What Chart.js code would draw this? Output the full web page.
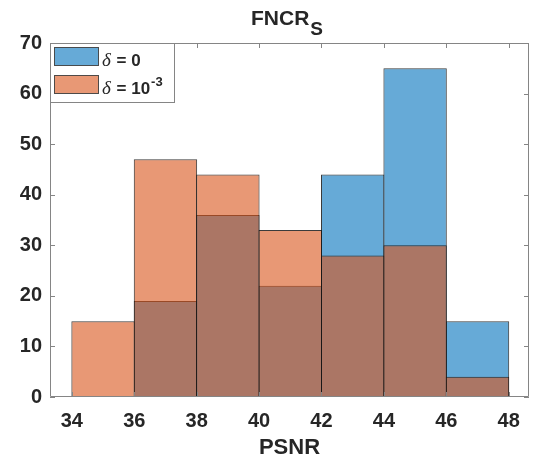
<!DOCTYPE html>
<html lang="en">
<head>
<meta charset="UTF-8">
<title>FNCR_S</title>
<script src="https://cdn.jsdelivr.net/npm/chart.js"></script>
<style>
  html, body { margin: 0; padding: 0; background: #fff; }
</style>
</head>
<body>
<canvas id="histChart" width="537" height="464"></canvas>
<script>
// PSNR histogram, bins of width 2 (centres)
const binCenters = [35, 37, 39, 41, 43, 45, 47];
const countsDelta0 = [0, 19, 36, 22, 44, 65, 15];
const countsDelta1e3 = [15, 47, 44, 33, 28, 30, 4];
const xTicks = [34, 36, 38, 40, 42, 44, 46, 48];
const yTicks = [0, 10, 20, 30, 40, 50, 60, 70];
const seriesNames = ['δ = 0', 'δ = 10⁻³'];

const sans = '"Liberation Sans", Arial, Helvetica, sans-serif';
const textColor = '#262626';
const axisColor = '#858585';
const blueFill = 'rgba(0, 114, 189, 0.6)';
const orangeFill = 'rgba(217, 83, 25, 0.6)';
const edgeColor = 'rgba(25, 25, 25, 0.85)';

const toPoints = arr => binCenters.map((c, i) => ({ x: c, y: arr[i] }));

// axes box with inward ticks (MATLAB style)
const boxPlugin = {
    id: 'box',
    afterDatasetsDraw(chart) {
        const { ctx, chartArea: a, scales: { x, y } } = chart;
        const tl = 5;
        ctx.save();
        ctx.strokeStyle = axisColor;
        ctx.lineWidth = 1;
        ctx.beginPath();
        ctx.rect(a.left + 0.5, a.top + 0.5, a.right - a.left - 1, a.bottom - a.top - 1);
        x.ticks.forEach(t => {
            const px = Math.round(x.getPixelForValue(t.value)) + 0.5;
            ctx.moveTo(px, a.bottom); ctx.lineTo(px, a.bottom - tl);
            ctx.moveTo(px, a.top); ctx.lineTo(px, a.top + tl);
        });
        y.ticks.forEach(t => {
            const py = Math.round(y.getPixelForValue(t.value)) + 0.5;
            ctx.moveTo(a.left, py); ctx.lineTo(a.left + tl, py);
            ctx.moveTo(a.right, py); ctx.lineTo(a.right - tl, py);
        });
        ctx.stroke();
        ctx.restore();
    }
};

// title with subscript and boxed legend inside the axes
const annotPlugin = {
    id: 'annot',
    afterDraw(chart) {
        const { ctx, chartArea: a } = chart;
        ctx.save();
        ctx.fillStyle = textColor;
        ctx.textBaseline = 'alphabetic';

        // title FNCR_S
        const mainFont = 'bold 21px ' + sans;
        const subFont = 'bold 19px ' + sans;
        ctx.font = mainFont;
        const w1 = ctx.measureText('FNCR').width;
        ctx.font = subFont;
        const w2 = ctx.measureText('S').width;
        let tx = (a.left + a.right) / 2 - 3 - (w1 + w2) / 2;
        ctx.font = mainFont;
        ctx.fillText('FNCR', tx, 25);
        ctx.font = subFont;
        ctx.fillText('S', tx + w1 + 1, 35);

        // legend
        const lx = a.left, ly = a.top, lw = 124, lh = 59;
        ctx.fillStyle = '#fff';
        ctx.fillRect(lx + 0.5, ly + 0.5, lw, lh);
        ctx.strokeStyle = axisColor;
        ctx.lineWidth = 1;
        ctx.strokeRect(lx + 0.5, ly + 0.5, lw, lh);

        const rows = [
            { fill: blueFill, y: ly + 4, base: '0', sup: '' },
            { fill: orangeFill, y: ly + 32, base: '10', sup: '-3' }
        ];
        rows.forEach(r => {
            ctx.fillStyle = r.fill;
            ctx.fillRect(lx + 4.5, r.y + 0.5, 44, 18);
            ctx.strokeStyle = 'rgba(60,60,60,0.9)';
            ctx.strokeRect(lx + 4.5, r.y + 0.5, 44, 18);
            ctx.fillStyle = textColor;
            let x = lx + 52;
            const by = r.y + 19;
            ctx.font = 'italic 19px "Liberation Serif", "Times New Roman", serif';
            ctx.fillText('δ', x, by);
            x += ctx.measureText('δ').width + 1;
            ctx.font = 'bold 17px ' + sans;
            const t = ' = ' + r.base;
            ctx.fillText(t, x, by);
            x += ctx.measureText(t).width;
            if (r.sup) {
                ctx.font = 'bold 13px ' + sans;
                ctx.fillText(r.sup, x + 1, by - 8);
            }
        });
        ctx.restore();
    }
};

new Chart(document.getElementById('histChart'), {
    type: 'bar',
    data: {
        datasets: [
            {
                label: seriesNames[0],
                data: toPoints(countsDelta0),
                backgroundColor: blueFill,
                borderColor: edgeColor,
                borderWidth: 1,
                borderSkipped: false,
                inflateAmount: 0,
                order: 1
            },
            {
                label: seriesNames[1],
                data: toPoints(countsDelta1e3),
                backgroundColor: orangeFill,
                borderColor: edgeColor,
                borderWidth: 1,
                borderSkipped: false,
                inflateAmount: 0,
                order: 0
            }
        ]
    },
    options: {
        responsive: false,
        animation: false,
        devicePixelRatio: 1,
        layout: { padding: { top: 43, right: 8, left: 0, bottom: 0 } },
        datasets: {
            // slightly wider than the bin so neighbouring edges share one line
            bar: { grouped: false, barPercentage: 1.016, categoryPercentage: 1 }
        },
        plugins: {
            legend: { display: false },
            title: { display: false },
            tooltip: { enabled: false }
        },
        scales: {
            x: {
                type: 'linear',
                offset: false,
                min: 33.3,
                max: 48.65,
                afterBuildTicks: s => { s.ticks = xTicks.map(v => ({ value: v })); },
                afterFit: s => { s.height = 67; },
                grid: { display: false, drawTicks: false },
                border: { display: false },
                ticks: {
                    color: textColor,
                    font: { family: sans, size: 20, weight: 'bold' },
                    padding: 12,
                    maxRotation: 0,
                    autoSkip: false
                },
                title: {
                    display: true,
                    text: 'PSNR',
                    color: textColor,
                    font: { family: sans, size: 22, weight: 'bold' },
                    padding: { top: 0, bottom: 3 }
                }
            },
            y: {
                min: 0,
                max: 70,
                afterBuildTicks: s => { s.ticks = yTicks.map(v => ({ value: v })); },
                afterFit: s => { s.width = 50; },
                grid: { display: false, drawTicks: false },
                border: { display: false },
                ticks: {
                    color: textColor,
                    font: { family: sans, size: 20, weight: 'bold' },
                    padding: 8
                }
            }
        }
    },
    plugins: [boxPlugin, annotPlugin]
});
</script>
</body>
</html>
